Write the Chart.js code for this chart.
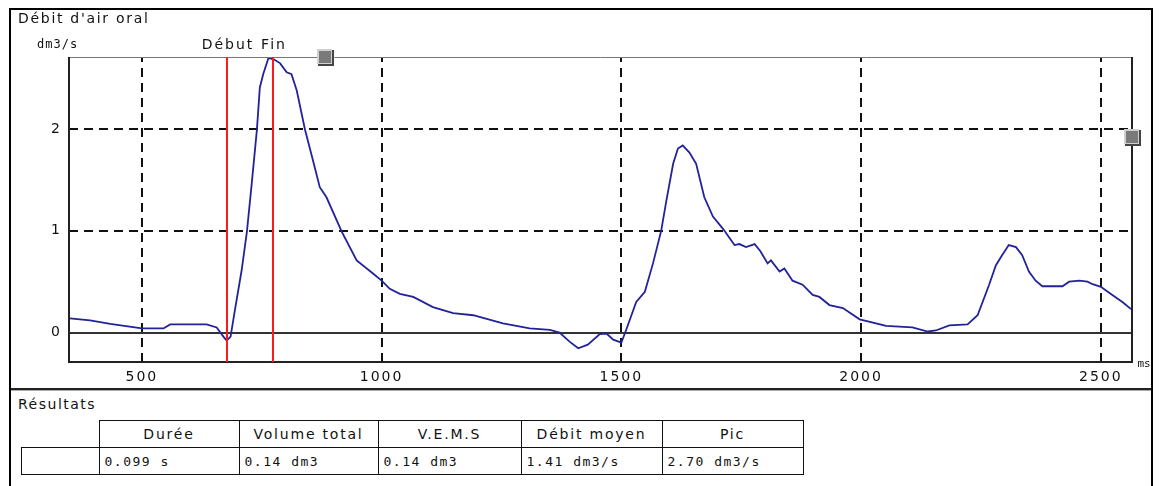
<!DOCTYPE html>
<html lang="fr">
<head>
<meta charset="utf-8">
<title>Débit d'air oral</title>
<script src="https://cdn.jsdelivr.net/npm/chart.js@4.4.1/dist/chart.umd.min.js"></script>
<style>
  body { margin: 0; background: #fff; width: 1160px; height: 486px; overflow: hidden; position: relative; font-family: "DejaVu Sans", sans-serif; color: #111; }
  #cadre { position: absolute; left: 9px; top: 8px; width: 1140px; height: 520px; border: 2px solid #000; }
  #separateur { position: absolute; left: 11px; top: 388px; width: 1140px; height: 2px; background: #222; border-bottom: 1px solid #aaa; }
  #graphique { position: absolute; left: 0; top: 0; }
  .etiquette { position: absolute; font-size: 14px; letter-spacing: 1.7px; white-space: nowrap; }
  #titre { left: 18px; top: 10px; }
  #unite { left: 37px; top: 37px; font-family: "DejaVu Sans Mono", monospace; font-size: 12px; letter-spacing: 1px; }
  #resultats { left: 18px; top: 396px; letter-spacing: 1.5px; }
  table { position: absolute; left: 21px; top: 420px; border-collapse: collapse; }
  td { border: 1.5px solid #111; height: 26px; padding: 0 5px; font-size: 14px; white-space: nowrap; }
  tr.entete td { text-align: center; letter-spacing: 1.8px; }
  tr.entete td.vide { border: none; }
  tr.valeurs td { font-family: "DejaVu Sans Mono", monospace; font-size: 13px; letter-spacing: 1.5px; }
</style>
</head>
<body>
<div id="cadre"></div>
<canvas id="graphique" width="1160" height="390"></canvas>
<div id="separateur"></div>
<div class="etiquette" id="titre">Débit d'air oral</div>
<div class="etiquette" id="unite">dm3/s</div>
<div class="etiquette" id="resultats">Résultats</div>
<table id="tableau"></table>
<script>
const temps = [350, 392, 434, 500, 545, 559, 635, 656, 670, 677, 685, 694, 708, 719, 729, 740, 746, 753, 764, 774,
    788, 802, 812, 823, 840, 857, 871, 885, 917, 948, 982, 1000, 1017, 1038, 1066, 1107, 1149, 1191, 1253, 1309,
    1351, 1371, 1392, 1410, 1430, 1455, 1469, 1483, 1500, 1510, 1531, 1549, 1566, 1583, 1594, 1608, 1618, 1628, 1642, 1656,
    1673, 1691, 1712, 1736, 1746, 1760, 1778, 1790, 1805, 1812, 1830, 1840, 1857, 1878, 1899, 1913, 1934, 1962, 1997, 2031,
    2052, 2107, 2139, 2156, 2184, 2222, 2243, 2267, 2281, 2294, 2308, 2323, 2336, 2350, 2364, 2378, 2420, 2434, 2455, 2472,
    2483, 2500, 2524, 2545, 2563];
const debit = [0.14, 0.12, 0.085, 0.04, 0.04, 0.08, 0.08, 0.05, -0.04, -0.08, -0.04, 0.22, 0.61, 0.99, 1.46, 2.00, 2.41, 2.54, 2.70, 2.69,
    2.65, 2.56, 2.54, 2.38, 2.00, 1.69, 1.43, 1.33, 0.99, 0.71, 0.58, 0.51, 0.43, 0.38, 0.35, 0.25, 0.19, 0.17, 0.09, 0.04,
    0.025, 0.0, -0.09, -0.155, -0.12, -0.015, -0.01, -0.07, -0.10, 0.025, 0.30, 0.40, 0.68, 1.00, 1.30, 1.66, 1.81, 1.84, 1.77, 1.66,
    1.33, 1.14, 1.02, 0.86, 0.87, 0.84, 0.87, 0.80, 0.68, 0.71, 0.60, 0.63, 0.51, 0.47, 0.37, 0.35, 0.27, 0.24, 0.13, 0.09,
    0.065, 0.05, 0.01, 0.02, 0.07, 0.08, 0.17, 0.47, 0.66, 0.76, 0.86, 0.84, 0.76, 0.60, 0.51, 0.455, 0.455, 0.50, 0.51, 0.50,
    0.475, 0.45, 0.37, 0.30, 0.23];

const ticksX = [500, 1000, 1500, 2000, 2500];
const ticksY = [0, 1, 2];

// Curseurs Début / Fin
const marqueurs = [678, 774];
const nomsMarqueurs = ['Début', 'Fin'];

// Tableau des résultats
const colonnes = ['Durée', 'Volume total', 'V.E.M.S', 'Débit moyen', 'Pic'];
const valeurs = ['0.099 s', '0.14 dm3', '0.14 dm3', '1.41 dm3/s', '2.70 dm3/s'];
const largeurs = [78, 140, 139, 143, 141, 141];

const tableau = document.getElementById('tableau');
let html = '<tr class="entete"><td class="vide" style="width:' + (largeurs[0] - 11) + 'px"></td>';
colonnes.forEach((c, i) => { html += '<td style="width:' + (largeurs[i + 1] - 11) + 'px">' + c + '</td>'; });
html += '</tr><tr class="valeurs"><td></td>';
valeurs.forEach(v => { html += '<td>' + v + '</td>'; });
html += '</tr>';
tableau.innerHTML = html;

const decor = {
    id: 'decor',
    beforeDraw(chart) {
        chart.ctx.letterSpacing = '2px';
    },
    beforeDatasetsDraw(chart) {
        const { ctx, chartArea: a, scales: { x, y } } = chart;
        ctx.save();
        ctx.strokeStyle = '#111';
        ctx.lineWidth = 2;
        ctx.setLineDash([9, 6]);
        ticksX.forEach(v => {
            const px = Math.round(x.getPixelForValue(v));
            ctx.beginPath(); ctx.moveTo(px, a.bottom); ctx.lineTo(px, a.top); ctx.stroke();
        });
        ticksY.filter(v => v !== 0).forEach(v => {
            const py = Math.round(y.getPixelForValue(v));
            ctx.beginPath(); ctx.moveTo(a.left, py); ctx.lineTo(a.right, py); ctx.stroke();
        });
        ctx.setLineDash([]);
        ctx.strokeStyle = '#333';
        const p0 = Math.round(y.getPixelForValue(0));
        ctx.beginPath(); ctx.moveTo(a.left, p0); ctx.lineTo(a.right, p0); ctx.stroke();
        ctx.restore();
    },
    afterDatasetsDraw(chart) {
        const { ctx, chartArea: a, scales: { x, y } } = chart;
        ctx.save();
        // cadre du tracé
        ctx.strokeStyle = '#777';
        ctx.lineWidth = 1;
        ctx.beginPath(); ctx.moveTo(a.left, a.top + 0.5); ctx.lineTo(a.right, a.top + 0.5); ctx.stroke();
        ctx.strokeStyle = '#222';
        ctx.lineWidth = 2;
        ctx.beginPath(); ctx.moveTo(a.left, a.top); ctx.lineTo(a.left, a.bottom); ctx.lineTo(a.right, a.bottom); ctx.lineTo(a.right, a.top); ctx.stroke();
        // curseurs rouges
        ctx.strokeStyle = '#ff1a1a';
        ctx.lineWidth = 2;
        ctx.fillStyle = '#111';
        ctx.font = '14px "DejaVu Sans"';
        ctx.textAlign = 'center';
        ctx.textBaseline = 'middle';
        ctx.letterSpacing = '2px';
        marqueurs.forEach((m, i) => {
            const px = Math.round(x.getPixelForValue(m));
            ctx.beginPath(); ctx.moveTo(px, a.top); ctx.lineTo(px, a.bottom); ctx.stroke();
            ctx.fillText(nomsMarqueurs[i], px + 1, 45);
        });
        // unité de l'axe x
        ctx.font = '11px "DejaVu Sans Mono"';
        ctx.letterSpacing = '0px';
        ctx.fillText('ms', a.right + 12, a.bottom + 2);
        // poignées grises
        const poignee = (cx, cy) => {
            ctx.fillStyle = '#444';
            ctx.fillRect(cx - 7, cy - 7, 16, 16);
            ctx.fillStyle = '#d0d0d0';
            ctx.fillRect(cx - 8, cy - 8, 15, 15);
            ctx.fillStyle = '#7a7a7a';
            ctx.fillRect(cx - 6, cy - 6, 12, 12);
        };
        poignee(Math.round(x.getPixelForValue(882)), a.top);
        poignee(a.right, Math.round(y.getPixelForValue(1.92)));
        ctx.restore();
    }
};

new Chart(document.getElementById('graphique'), {
    type: 'line',
    data: {
        datasets: [{
            data: temps.map((t, i) => ({ x: t, y: debit[i] })),
            borderColor: '#22229a',
            borderWidth: 1.8,
            pointRadius: 0,
            tension: 0,
            fill: false
        }]
    },
    options: {
        responsive: false,
        animation: false,
        devicePixelRatio: 1,
        layout: { padding: { left: 29, top: 57, right: 28, bottom: 8 } },
        plugins: { legend: { display: false }, tooltip: { enabled: false } },
        scales: {
            x: {
                type: 'linear',
                min: 348,
                max: 2565,
                afterBuildTicks: s => { s.ticks = ticksX.map(v => ({ value: v })); },
                afterFit: s => { s.height = 20; },
                grid: { display: false, drawTicks: false },
                border: { display: false },
                ticks: { padding: 7, color: '#111', font: { family: 'DejaVu Sans', size: 14 }, maxRotation: 0, callback: v => String(v) }
            },
            y: {
                min: -0.29,
                max: 2.71,
                afterBuildTicks: s => { s.ticks = ticksY.map(v => ({ value: v })); },
                afterFit: s => { s.width = 40; },
                grid: { display: false, drawTicks: false },
                border: { display: false },
                ticks: { padding: 7, color: '#111', font: { family: 'DejaVu Sans', size: 14 }, callback: v => String(v) }
            }
        }
    },
    plugins: [decor]
});
</script>
</body>
</html>
